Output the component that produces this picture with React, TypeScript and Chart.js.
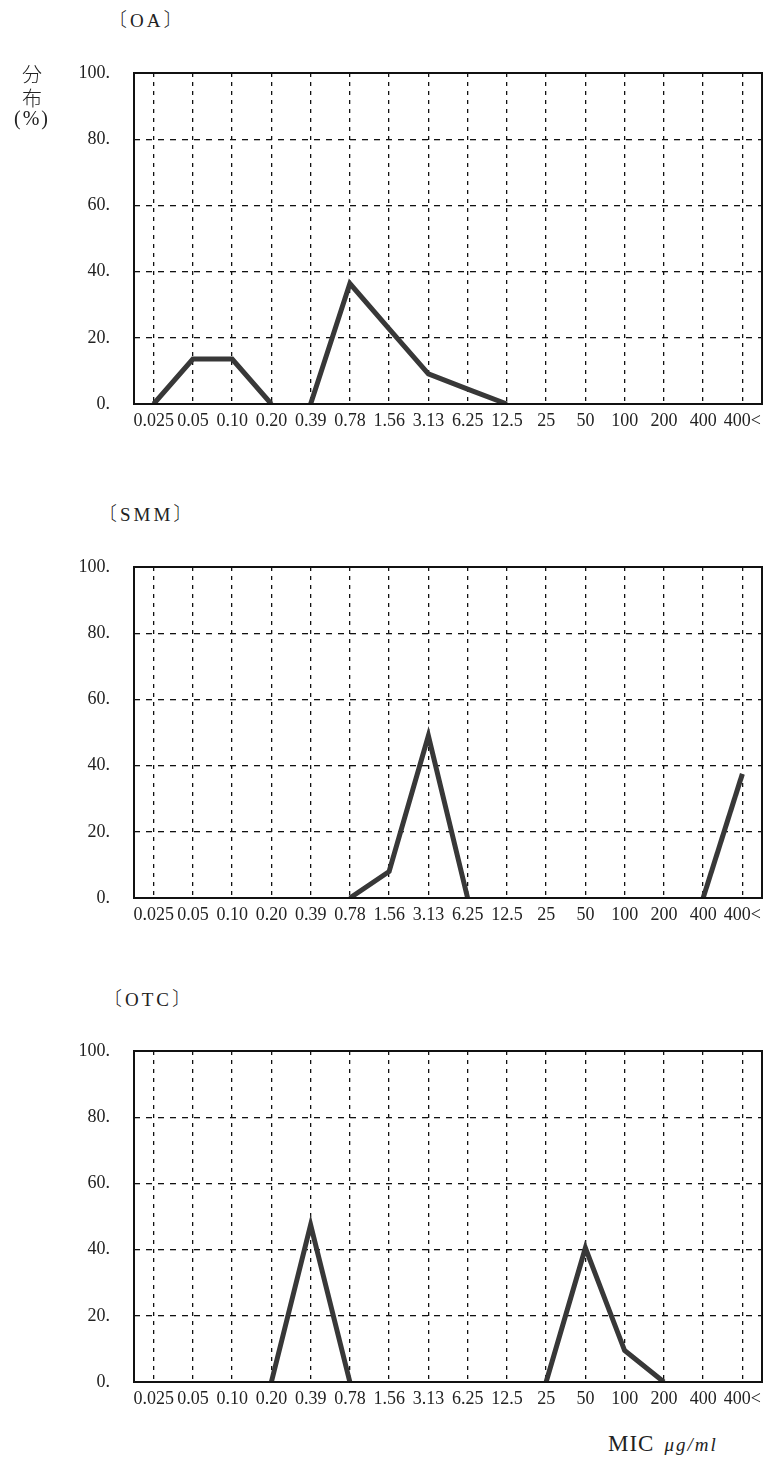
import React, { useEffect, useRef } from "react";
import { Chart, registerables } from "chart.js";

Chart.register(...registerables);

// ---- data ----
const categories = [
  "0.025", "0.05", "0.10", "0.20", "0.39", "0.78", "1.56", "3.13",
  "6.25", "12.5", "25", "50", "100", "200", "400", "400<",
];
const oaValues = [0, 13.6, 13.6, 0, 0, 36.4, 22.7, 9.1, 4.5, 0, 0, 0, 0, 0, 0, 0];
const smmValues = [0, 0, 0, 0, 0, 0, 8, 49, 0, 0, 0, 0, 0, 0, 0, 37.5];
const otcValues = [0, 0, 0, 0, 47.5, 0, 0, 0, 0, 0, 0, 40.5, 9.5, 0, 0, 0];
const yTickValues = [0, 20, 40, 60, 80, 100];
const titles = ["〔OA〕", "〔SMM〕", "〔OTC〕"];

const SERIF = "'Liberation Serif', 'DejaVu Serif', serif";

const PLOT_LEFT = 134;
const PLOT_RIGHT = 762;
const PLOT_H = 331;
const PAD_TOP = 20;
const X_AXIS_H = 44;
const CANVAS_W = 765;
const CANVAS_H = PAD_TOP + PLOT_H + X_AXIS_H;

const frame = {
  id: "frame",
  afterDraw(chart: any) {
    const { ctx, chartArea } = chart;
    ctx.save();
    ctx.strokeStyle = "#111";
    ctx.lineWidth = 2;
    ctx.setLineDash([]);
    ctx.strokeRect(chartArea.left, chartArea.top, chartArea.right - chartArea.left, chartArea.bottom - chartArea.top);
    ctx.restore();
  },
};

function MicChart({ values, top }: { values: number[]; top: number }) {
  const ref = useRef<HTMLCanvasElement | null>(null);
  useEffect(() => {
    if (!ref.current) return;
    const chart = new Chart(ref.current, {
      type: "line",
      data: {
        labels: categories,
        datasets: [
          {
            data: values,
            borderColor: "#383838",
            borderWidth: 5,
            pointRadius: 0,
            tension: 0,
            borderJoinStyle: "miter",
            borderCapStyle: "butt",
            fill: false,
            segment: {
              borderColor: (c: any) =>
                c.p0.parsed.y === 0 && c.p1.parsed.y === 0 ? "rgba(0,0,0,0)" : undefined,
            },
          } as any,
        ],
      },
      options: {
        animation: false,
        responsive: false,
        devicePixelRatio: 1,
        layout: { padding: { top: PAD_TOP, right: CANVAS_W - PLOT_RIGHT, left: 0, bottom: 0 } },
        plugins: { legend: { display: false }, tooltip: { enabled: false }, title: { display: false } },
        scales: {
          x: {
            type: "category",
            offset: true,
            grid: { offset: false, color: "#111", lineWidth: 1.3, drawTicks: false },
            border: { display: false, dash: [4, 5] },
            ticks: {
              autoSkip: false,
              maxRotation: 0,
              minRotation: 0,
              padding: 6,
              color: "#222",
              font: { family: SERIF, size: 18 },
            },
            afterFit: (s: any) => {
              s.height = X_AXIS_H;
              s.paddingLeft = 0;
              s.paddingRight = 0;
            },
          },
          y: {
            min: 0,
            max: 100,
            afterBuildTicks: (s: any) => {
              s.ticks = yTickValues.map((v) => ({ value: v }));
            },
            grid: { color: "#111", lineWidth: 1.3, drawTicks: false },
            border: { display: false, dash: [6, 6] },
            ticks: {
              padding: 24,
              color: "#222",
              font: { family: SERIF, size: 18 },
              callback: (v: any) => `${v}.`,
            },
            afterFit: (s: any) => {
              s.width = PLOT_LEFT;
              s.paddingTop = 0;
              s.paddingBottom = 0;
            },
          },
        },
      },
      plugins: [frame],
    } as any);
    return () => chart.destroy();
  }, [values]);
  return (
    <canvas
      ref={ref}
      width={CANVAS_W}
      height={CANVAS_H}
      style={{ position: "absolute", left: 0, top: top - PAD_TOP, width: CANVAS_W, height: CANVAS_H }}
    />
  );
}

const chartTops = [73, 567, 1051];
const titlePos = [
  { left: 108, top: 9 },
  { left: 98, top: 503 },
  { left: 103, top: 988 },
];

export default function App() {
  const seriesList = [oaValues, smmValues, otcValues];
  return (
    <div
      style={{
        position: "absolute",
        left: 0,
        top: 0,
        width: 765,
        height: 1463,
        background: "#fff",
        overflow: "hidden",
        fontFamily: SERIF,
        color: "#222",
      }}
    >
      {seriesList.map((vals, i) => (
        <MicChart key={i} values={vals} top={chartTops[i]} />
      ))}
      {titles.map((t, i) => (
        <div
          key={t}
          style={{
            position: "absolute",
            left: titlePos[i].left,
            top: titlePos[i].top,
            fontSize: 19,
            letterSpacing: 3,
            lineHeight: "24px",
            whiteSpace: "nowrap",
            fontFamily: "'Liberation Serif', 'Noto Sans CJK JP', serif",
            fontWeight: 300,
          }}
        >
          {t}
        </div>
      ))}
      <div
        style={{
          position: "absolute",
          left: 8,
          top: 62,
          width: 48,
          textAlign: "center",
          fontSize: 20,
          lineHeight: "24px",
          fontFamily: "'Noto Sans CJK JP', serif",
          fontWeight: 300,
        }}
      >
        <div>分</div>
        <div>布</div>
        <div style={{ fontFamily: SERIF, marginTop: -4, letterSpacing: 2 }}>(%)</div>
      </div>
      <div
        style={{
          position: "absolute",
          left: 608,
          top: 1429,
          fontSize: 23,
          lineHeight: "30px",
          whiteSpace: "nowrap",
          letterSpacing: 1,
        }}
      >
        MIC
        <span style={{ fontStyle: "italic", fontSize: 19, marginLeft: 10, letterSpacing: 2 }}>μg/ml</span>
      </div>
    </div>
  );
}
